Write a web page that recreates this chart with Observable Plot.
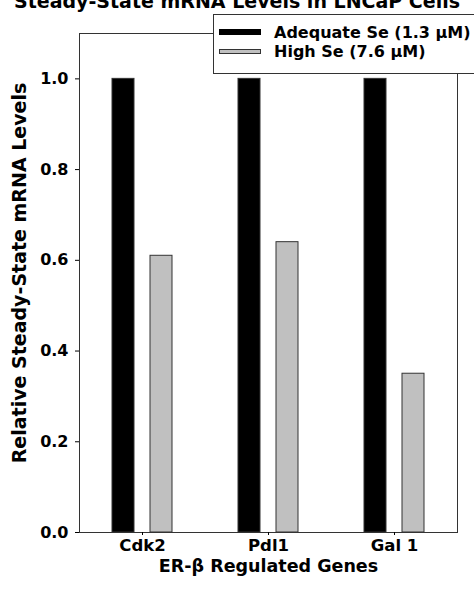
<!DOCTYPE html>
<html>
<head>
<meta charset="utf-8">
<script src="https://cdn.jsdelivr.net/npm/d3@7"></script>
<script src="https://cdn.jsdelivr.net/npm/@observablehq/plot@0.6"></script>
<style>
  html, body { margin: 0; padding: 0; background: white; }
  #wrap { position: relative; width: 474px; height: 589px; overflow: hidden; font-family: "DejaVu Sans", sans-serif; font-weight: bold; }
  #title { position: absolute; left: 0; top: -10px; width: 474px; text-align: center; font-size: 19px; white-space: nowrap; line-height: 22px; }
  #legend { position: absolute; left: 213px; top: 14px; width: 270px; height: 58px; border: 1px solid #333; background: white; }
  .item { position: absolute; left: 5px; height: 20px; display: flex; align-items: center; font-size: 16px; white-space: nowrap; }
  .sw { width: 42px; height: 5px; margin-right: 13px; box-sizing: border-box; }
</style>
</head>
<body>
<div id="wrap">
  <div id="chart"></div>
  <div id="title"></div>
  <div id="legend"></div>
</div>
<script>
const titleText = "Steady-State mRNA Levels in LNCaP Cells";
const genes = ["Cdk2", "Pdl1", "Gal 1"];
const series = ["Adequate Se (1.3 \u03BCM)", "High Se (7.6 \u03BCM)"];
const adequate = [1.0, 1.0, 1.0];
const high = [0.61, 0.64, 0.35];
const yTicks = [0, 0.2, 0.4, 0.6, 0.8, 1.0];
const colors = ["#000000", "#c0c0c0"];

const data = genes.flatMap((g, i) => [
  {gene: g, series: series[0], value: adequate[i]},
  {gene: g, series: series[1], value: high[i]}
]);

const chart = Plot.plot({
  width: 474,
  height: 589,
  marginTop: 33,
  marginBottom: 57,
  marginLeft: 78,
  marginRight: 16,
  style: {fontFamily: "'DejaVu Sans', sans-serif", fontWeight: "bold", fontSize: "16px", color: "black", background: "white"},
  fx: {domain: genes, padding: 0, label: "ER-\u03B2 Regulated Genes"},
  x: {domain: series, paddingInner: 0.41, paddingOuter: 0.83, axis: null},
  y: {domain: [0, 1.1], label: "Relative Steady-State mRNA Levels"},
  color: {domain: series, range: colors},
  marks: [
    Plot.barY(data, {fx: "gene", x: "series", y: "value", fill: "series", stroke: "#333", strokeWidth: 1}),
    Plot.frame({facet: "super", stroke: "#333"}),
    Plot.axisY({ticks: yTicks, tickFormat: d3.format(".1f"), tickSize: 4, tickPadding: 7,
      label: "Relative Steady-State mRNA Levels", labelAnchor: "center", labelOffset: 67, labelArrow: "none"}),
    Plot.axisFx({anchor: "bottom", tickSize: 3, tickPadding: 4,
      label: "ER-\u03B2 Regulated Genes", labelAnchor: "center", labelOffset: 39, labelArrow: "none"})
  ]
});
document.getElementById("chart").appendChild(chart);

const svg = d3.select(chart);
svg.selectAll('[aria-label="y-axis label"]').style("font-size", "19px");
svg.selectAll('[aria-label="y-axis label"] text').attr("dx", 10);
svg.selectAll('[aria-label="fx-axis label"]').style("font-size", "17.5px");
svg.selectAll('[aria-label="fx-axis label"] text').style("font-size", "17.5px");
svg.selectAll('[aria-label="fx-axis tick label"]').style("font-size", "16.5px");

document.getElementById("title").textContent = titleText;

const legend = d3.select("#legend");
series.forEach((s, i) => {
  const it = legend.append("div").attr("class", "item").style("top", (i === 0 ? 7 : 26) + "px");
  it.append("div").attr("class", "sw")
    .style("background", colors[i])
    .style("border", i === 0 ? "none" : "1px solid #333")
    .style("height", i === 0 ? "6px" : "5px");
  it.append("span").text(s);
});
</script>
</body>
</html>
